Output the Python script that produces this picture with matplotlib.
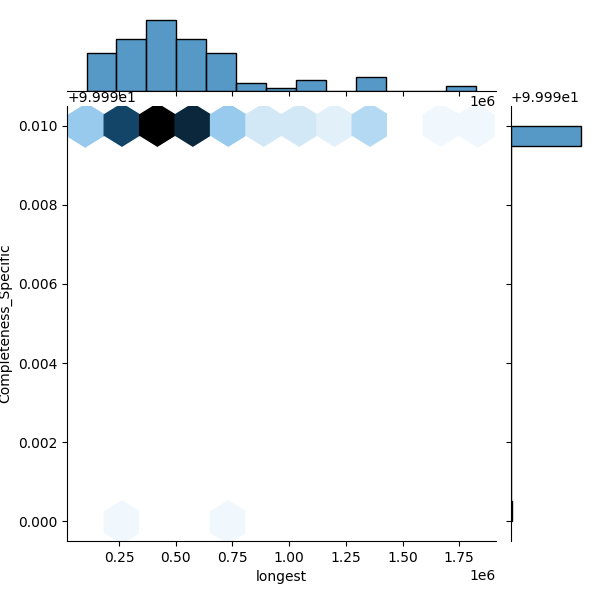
import numpy as np
import pandas as pd
import matplotlib
matplotlib.use("Agg")
import matplotlib.pyplot as plt
import seaborn as sns

# longest contig length for assemblies that are 100.0 % complete
longest_complete = [
    106500, 118000, 131000, 142000, 155000, 166000, 178000,
    190000, 197000, 204000, 211000, 219000, 226000, 233000,
    243000, 250000, 256000, 262000, 268000, 274000, 280000, 287000,
    293000, 300000, 307000, 314000, 321000, 328000, 335000,
    347000, 356000, 364000,
    375000, 379000, 384000, 389000, 393000, 398000, 402000, 407000,
    411000, 416000, 420000, 425000, 429000, 434000, 438000, 443000,
    447000, 452000, 457000, 462000, 467000, 472000, 478000, 484000,
    489000, 494000,
    508000, 515000, 521000, 528000, 534000, 541000, 547000, 553000,
    560000, 566000, 572000, 579000, 585000, 592000, 599000, 606000,
    614000, 622000, 630000,
    637000, 640000, 643000, 646000, 649000, 651000,
    660000, 672000, 685000, 698000, 712000, 729000, 748000,
    825000, 852000, 880000,
    1005000, 1060000, 1095000, 1135000, 1152000,
    1305000, 1330000, 1352000, 1378000, 1410000,
    1720000, 1825000,
]
# the two assemblies at 99.99 %
longest_partial = [272000, 705000]

complete_value = 100.0
partial_value = 99.99

longest = longest_complete + longest_partial
completeness = [complete_value] * len(longest_complete) + [partial_value] * len(longest_partial)

df = pd.DataFrame({"longest": longest, "Completeness_Specific": completeness})

# same white -> C0 -> black colormap seaborn uses for kind="hex"
color_rgb = matplotlib.colors.to_rgb("C0")
colors = [sns.utils.set_hls_values(color_rgb, l=v) for v in np.linspace(1, 0, 12)]
cmap = sns.blend_palette(colors, as_cmap=True)

g = sns.JointGrid(data=df, x="longest", y="Completeness_Specific", height=6, ratio=5, space=0.2)
g.plot_joint(plt.hexbin, gridsize=11, cmap=cmap)
sns.histplot(x=df["longest"], ax=g.ax_marg_x, bins=13, color="C0")
sns.histplot(y=df["Completeness_Specific"], ax=g.ax_marg_y, bins=20, color="C0")

g.figure.set_dpi(100)
g.figure.subplots_adjust(left=0.1117, right=0.9742, bottom=0.0983, top=0.9733,
                         hspace=0.2, wspace=0.2)
g.figure.savefig("out.png", dpi=100)
